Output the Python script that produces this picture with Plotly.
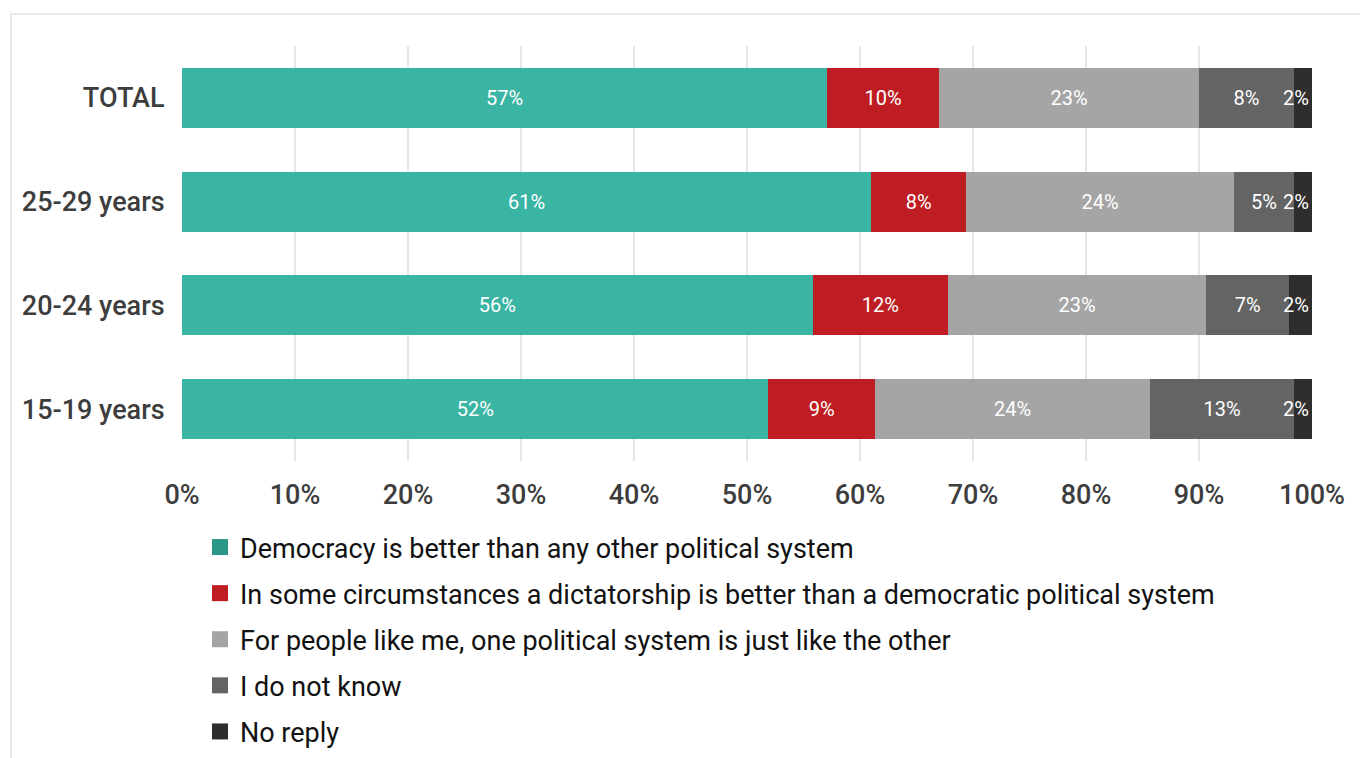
import plotly.graph_objects as go

categories = ["TOTAL", "25-29 years", "20-24 years", "15-19 years"]
series_names = [
    "Democracy is better than any other political system",
    "In some circumstances a dictatorship is better than a democratic political system",
    "For people like me, one political system is just like the other",
    "I do not know",
    "No reply",
]
democracy = [57.1, 61.0, 55.8, 51.9]
dictatorship = [9.9, 8.4, 12.0, 9.4]
indifferent = [23.0, 23.7, 22.8, 24.4]
dont_know = [8.4, 5.3, 7.4, 12.7]
no_reply = [1.6, 1.6, 2.0, 1.6]
series_values = [democracy, dictatorship, indifferent, dont_know, no_reply]
bar_colors = ["#3AB5A3", "#BE1E23", "#A5A5A5", "#646464", "#2E2E2E"]
legend_colors = ["#2A9787", "#BE1E23", "#A5A5A5", "#646464", "#2E2E2E"]
tick_vals = [0, 10, 20, 30, 40, 50, 60, 70, 80, 90, 100]
tick_text = [f"{v}%" for v in tick_vals]

# page has an 8px body margin; screen coords below are the reference's
OFF = 8
PL, PR, PT, PB = 182, 1312, 46, 461  # plot area in screen px
W, H = 1368 - OFF, 758 - OFF

fig = go.Figure()
for i, (name, vals, col) in enumerate(zip(series_names, series_values, bar_colors)):
    fig.add_trace(go.Bar(
        y=categories, x=vals, name=name, orientation="h",
        marker=dict(color=col, line=dict(width=0)),
        text=vals, texttemplate="%{x:.0f}%", textposition="inside",
        insidetextanchor="end" if i == len(series_names) - 1 else "middle",
        textangle=0, constraintext="none",
        textfont=dict(color="white", size=20, family="Roboto"),
        showlegend=False, hoverinfo="skip", cliponaxis=False,
    ))
for i, (name, col) in enumerate(zip(series_names, legend_colors)):
    fig.add_trace(go.Scatter(
        x=[None], y=[None], mode="markers", name=name,
        marker=dict(symbol="square", size=16, color=col),
        legendgroup=f"g{i}", showlegend=True,
    ))

pw, ph = PR - PL, PB - PT
fig.update_layout(
    width=W, height=H,
    barmode="stack", bargap=0.42,
    paper_bgcolor="white", plot_bgcolor="white",
    margin=dict(l=PL - OFF, r=W - (PR - OFF), t=PT - OFF, b=H - (PB - OFF), autoexpand=False),
    font=dict(family="Roboto", color="#3D3D3D"),
    xaxis=dict(
        range=[0, 100], tickvals=tick_vals, ticktext=tick_text,
        showgrid=True, gridcolor="#E6E6E6", gridwidth=2,
        zeroline=False, showline=False,
        tickfont=dict(size=27, color="#3D3D3D", family="Roboto", weight=500),
        ticks="outside", ticklen=10, tickcolor="rgba(0,0,0,0)", fixedrange=True,
    ),
    yaxis=dict(
        autorange="reversed", showgrid=False, zeroline=False,
        tickfont=dict(size=27, color="#3D3D3D", family="Roboto", weight=500),
        ticks="outside", ticklen=11, tickcolor="rgba(0,0,0,0)",
    ),
    legend=dict(
        x=(200 - PL) / pw, y=-(523 - PB) / ph, xanchor="left", yanchor="top",
        orientation="v", traceorder="grouped", tracegroupgap=8,
        font=dict(size=27, color="#111111", family="Roboto"),
        bgcolor="rgba(0,0,0,0)",
    ),
    shapes=[dict(
        type="rect", xref="paper", yref="paper",
        x0=(11 - PL) / pw, x1=(1400 - PL) / pw,
        y0=-(800 - PB) / ph, y1=(PB - 14) / ph,
        line=dict(color="#E8E8E8", width=2), fillcolor="rgba(0,0,0,0)",
        layer="below",
    )],
)

fig.write_html("out.html")
